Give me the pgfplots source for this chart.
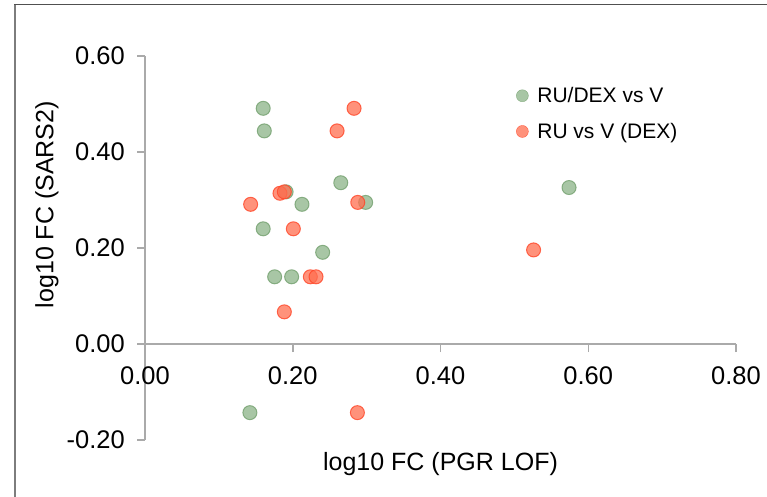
\documentclass[border=0pt]{standalone}
\usepackage{pgfplots}
\pgfplotsset{compat=1.18}
\usepackage{fontspec}
\setmainfont{Liberation Sans}
\definecolor{axisgray}{RGB}{170,170,170}
\definecolor{gfill}{RGB}{140,180,135}
\definecolor{gdraw}{RGB}{115,160,110}
\definecolor{rfill}{RGB}{255,110,80}
\definecolor{rdraw}{RGB}{255,70,40}
\begin{document}
\begin{tikzpicture}[x=1pt,y=1pt]
\path[use as bounding box] (0,0) rectangle (767,496);
\fill[white] (0,0) rectangle (767,496);
\begin{axis}[
  at={(145pt,56pt)}, anchor=south west,
  scale only axis, width=591pt, height=384pt,
  xmin=0, xmax=0.8, ymin=-0.2, ymax=0.6,
  axis x line=middle, axis y line=left,
  axis line style={-, draw=axisgray, line width=1.5pt},
  xtick={0,0.2,0.4,0.6,0.8}, ytick={-0.2,0,0.2,0.4,0.6},
  tick align=outside, major tick length=8pt,
  tick style={axisgray, line width=1.5pt},
  hide obscured x ticks=false, hide obscured y ticks=false,
  /pgf/number format/fixed, /pgf/number format/fixed zerofill,
  /pgf/number format/precision=2, /pgf/number format/assume math mode=true,
  xticklabel style={font=\fontsize{25.5}{30}\selectfont, anchor=north, inner sep=0pt, yshift=-14.5pt},
  yticklabel style={font=\fontsize{25.5}{30}\selectfont, anchor=east, inner sep=0pt, xshift=-12pt},
  xlabel={log10 FC (PGR LOF)},
  xlabel style={font=\fontsize{25}{30}\selectfont, at={(axis description cs:0.5,0)}, anchor=center, yshift=-24.5pt},
  ylabel={log10 FC (SARS2)},
  ylabel style={font=\fontsize{25}{30}\selectfont, at={(axis description cs:-0.1658,0.613)}, anchor=center, rotate=0},
  legend style={draw=none, fill=none, font=\fontsize{21}{25}\selectfont,
    at={(axis description cs:0.628,0.850)}, anchor=west, inner sep=0pt,
    row sep=15pt, legend cell align=left},
  clip=false,
]
\addlegendimage{only marks, mark=*, mark size=6pt, mark options={fill=gfill, draw=gdraw, fill opacity=0.75, draw opacity=0.8}}
\addlegendentry{\hspace{7pt}RU/DEX vs V}
\addlegendimage{only marks, mark=*, mark size=6pt, mark options={fill=rfill, draw=rdraw, fill opacity=0.75, draw opacity=0.8}}
\addlegendentry{\hspace{7pt}RU vs V (DEX)}
\addplot[forget plot, only marks, mark=*, mark size=7pt, mark options={fill=gfill, draw=gdraw, fill opacity=0.75, draw opacity=0.8, line width=1pt}] table {
x y
0.160 0.491
0.1615 0.444
0.191 0.317
0.2125 0.291
0.265 0.336
0.2987 0.295
0.160 0.240
0.2405 0.191
0.1755 0.140
0.1985 0.140
0.574 0.326
0.142 -0.143
};
\addplot[forget plot, only marks, mark=*, mark size=7pt, mark options={fill=rfill, draw=rdraw, fill opacity=0.75, draw opacity=0.8, line width=1pt}] table {
x y
0.283 0.491
0.260 0.444
0.1827 0.314
0.1886 0.317
0.143 0.291
0.288 0.295
0.2008 0.240
0.2238 0.140
0.2315 0.140
0.1886 0.067
0.526 0.196
0.2875 -0.143
};
\end{axis}
\draw[line width=2pt, color={rgb,255:red,125;green,125;blue,125}] (15,-5) -- (15,491);
\draw[line width=1.8pt, color={rgb,255:red,80;green,80;blue,80}] (14,491.5) -- (780,491.5);
\end{tikzpicture}
\end{document}
